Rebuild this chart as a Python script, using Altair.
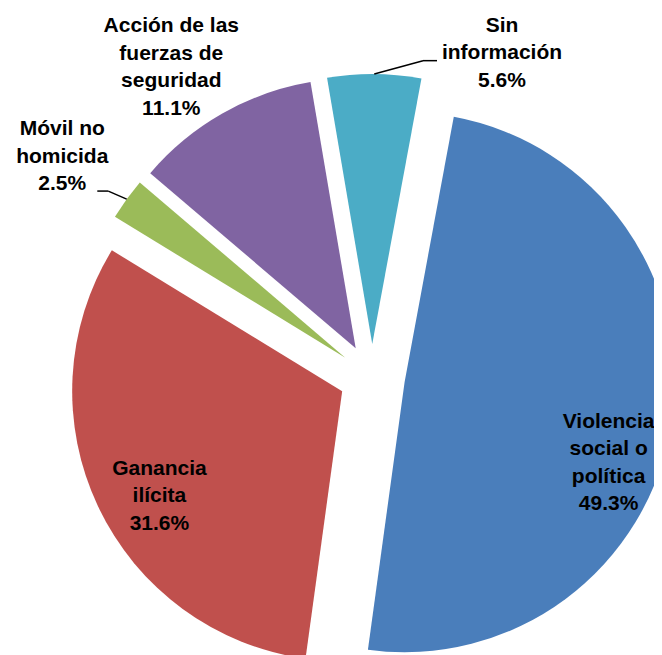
import altair as alt
import pandas as pd

# ---------------- data ----------------
categories = [
    "Violencia social o política",
    "Ganancia ilícita",
    "Móvil no homicida",
    "Acción de las fuerzas de seguridad",
    "Sin información",
]
values = [49.3, 31.6, 2.5, 11.1, 5.6]
label_lines = [
    "Violencia\nsocial o\npolítica",
    "Ganancia\nilícita",
    "Móvil no\nhomicida",
    "Acción de las\nfuerzas de\nseguridad",
    "Sin\ninformación",
]

# ---------------- style ----------------
colors = ["#4A7EBB", "#C0504D", "#9BBB59", "#8064A2", "#4BACC6"]
W, H = 646, 647
CX, CY = 364, 369          # pie centre (px)
R = 270                    # radius (px)
EXPLODE = 33               # explosion distance (px)
START = 10.5 * 3.141592653589793 / 180  # start angle of first slice

# label placement: angle shift from slice mid (deg), radius from pie centre (px)
label_dth = [2.95, 0.67, 2.05, -0.6, 20.2]
label_r = [242, 234, 393, 399, 369]
# leader lines (knee / end offset from label anchor), None = no leader
leaders = [None, None, (46, 56, 35, 56), None, (-79, 29, -65, 29)]

style_rows = []
for c, w, d, r, l in zip(categories, label_lines, label_dth, label_r, leaders):
    row = {"cat": c, "wrap": w, "dth": d, "lr": r}
    if l is not None:
        row.update({"kx": l[0], "ky": l[1], "nx": l[2], "ny": l[3]})
    style_rows.append(row)

df = pd.DataFrame({"cat": categories, "value": values, "order": list(range(len(categories)))})

base = (
    alt.Chart(df)
    .transform_joinaggregate(total="sum(value)")
    .transform_window(cum="sum(value)", sort=[alt.SortField("order")], frame=[None, 0])
    .transform_calculate(
        t0=f"{START} + 2*PI*(datum.cum - datum.value)/datum.total",
        t1=f"{START} + 2*PI*datum.cum/datum.total",
    )
    .transform_calculate(mid="(datum.t0 + datum.t1)/2")
    .transform_calculate(
        ax=f"{CX} + {EXPLODE}*sin(datum.mid)",
        ay=f"{CY} - {EXPLODE}*cos(datum.mid)",
    )
    .transform_lookup(
        lookup="cat",
        from_=alt.LookupData(
            data=alt.InlineData(values=style_rows),
            key="cat",
            fields=["wrap", "dth", "lr", "kx", "ky", "nx", "ny"],
        ),
    )
    .transform_calculate(
        la="datum.mid + datum.dth*PI/180",
    )
    .transform_calculate(
        lx=f"{CX} + datum.lr*sin(datum.la)",
        ly=f"{CY} - datum.lr*cos(datum.la)",
        txt="datum.wrap + '\\n' + format(datum.value, '.1f') + '%'",
        px=f"datum.ax + {R}*sin(datum.mid)",
        py=f"datum.ay - {R}*cos(datum.mid)",
    )
)

arcs = base.mark_arc(outerRadius=R, clip=True).encode(
    x=alt.X("ax:Q", scale=None, axis=None),
    y=alt.Y("ay:Q", scale=None, axis=None),
    theta=alt.Theta("t0:Q", scale=None),
    theta2="t1:Q",
    color=alt.Color(
        "cat:N",
        scale=alt.Scale(domain=categories, range=colors),
        legend=None,
    ),
)

labels = base.mark_text(
    lineBreak="\n",
    align="center",
    baseline="alphabetic",
    font="Liberation Sans",
    fontSize=21,
    fontWeight="bold",
    lineHeight=27.5,
    color="black",
).encode(
    x=alt.X("lx:Q", scale=None, axis=None),
    y=alt.Y("ly:Q", scale=None, axis=None),
    text="txt:N",
)

lead = base.transform_filter("isValid(datum.kx)")

diag = lead.mark_rule(color="black", strokeWidth=1.5).encode(
    x=alt.X("px:Q", scale=None, axis=None),
    y=alt.Y("py:Q", scale=None, axis=None),
    x2="kx2:Q",
    y2="ky2:Q",
).transform_calculate(kx2="datum.lx + datum.kx", ky2="datum.ly + datum.ky")

horiz = lead.mark_rule(color="black", strokeWidth=1.5).encode(
    x=alt.X("kx2:Q", scale=None, axis=None),
    y=alt.Y("ky2:Q", scale=None, axis=None),
    x2="nx2:Q",
    y2="ny2:Q",
).transform_calculate(
    kx2="datum.lx + datum.kx",
    ky2="datum.ly + datum.ky",
    nx2="datum.lx + datum.nx",
    ny2="datum.ly + datum.ny",
)

chart = (
    alt.layer(arcs, diag, horiz, labels)
    .properties(width=W, height=H, autosize=alt.AutoSizeParams(type="none"), padding=0)
    .configure_view(stroke=None)
)

chart.save("out.html", embed_options={"renderer": "svg", "actions": False})
